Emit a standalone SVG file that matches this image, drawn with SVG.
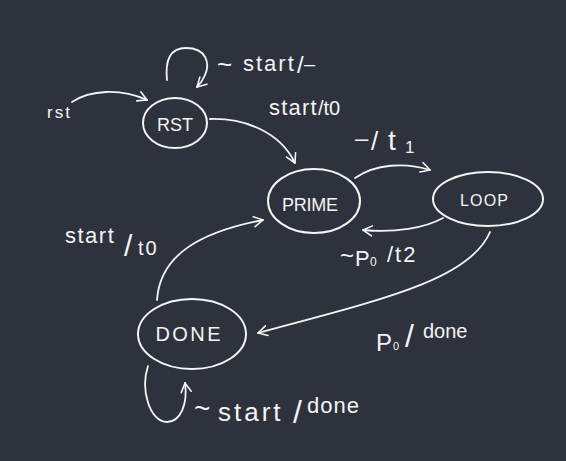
<svg xmlns="http://www.w3.org/2000/svg" width="566" height="461" viewBox="0 0 566 461">
<defs>
<style>
.bg{fill:#2e323d}
.node{fill:none;stroke:#f4f4f4;stroke-width:2;stroke-linecap:round}
.edge{fill:none;stroke:#f4f4f4;stroke-width:1.8;stroke-linecap:round;stroke-linejoin:round}
.t{fill:#f4f4f4;font-family:"Liberation Sans","DejaVu Sans",sans-serif}
.nt{font-size:18px;text-anchor:middle}
.lb{font-size:20px}
</style>
<marker id="ah" viewBox="0 0 12 12" refX="10" refY="6" markerWidth="12" markerHeight="12" markerUnits="userSpaceOnUse" orient="auto">
<path d="M1,1 L10,6 L1,11" fill="none" stroke="#f4f4f4" stroke-width="1.6" stroke-linecap="round" stroke-linejoin="round"/>
</marker>
</defs>
<rect class="bg" width="566" height="461"/>
<g id="connectors">
<path class="edge" d="M72,102 C90,90 120,88 147,100" marker-end="url(#ah)"/>
<path class="edge" d="M167,80 C165,60 170,48 186,48 C207,48 210,64 205,75 C203,80 200,84 197,87" marker-end="url(#ah)"/>
<path class="edge" d="M210,119 C245,118 280,132 295,163" marker-end="url(#ah)"/>
<path class="edge" d="M355,178 C375,164 405,162 430,170" marker-end="url(#ah)"/>
<path class="edge" d="M443,218 C425,228 395,233 363,230" marker-end="url(#ah)"/>
<path class="edge" d="M490,232 C470,280 380,300 258,333" marker-end="url(#ah)"/>
<path class="edge" d="M157,300 C160,255 200,232 263,220" marker-end="url(#ah)"/>
<path class="edge" d="M148,366 C140,390 150,422 167,422 C180,422 188,405 185,383" marker-end="url(#ah)"/>
</g>
<g id="RST">
<ellipse class="node" cx="175" cy="123" rx="32" ry="25"/>
<text class="t nt" x="175" y="131" textLength="36">RST</text>
</g>
<g id="PRIME">
<ellipse class="node" cx="314" cy="201" rx="46" ry="32"/>
<text class="t nt" x="310" y="211" textLength="56">PRIME</text>
</g>
<g id="LOOP">
<ellipse class="node" cx="488" cy="199" rx="55" ry="27"/>
<text class="t nt" x="484" y="206" style="font-size:16px" textLength="48">LOOP</text>
</g>
<g id="DONE">
<ellipse class="node" cx="192" cy="334" rx="54" ry="35"/>
<text class="t nt" x="188" y="341" style="font-size:20px" textLength="65">DONE</text>
</g>
<g id="labels">
<text class="t lb" x="47" y="118" style="font-size:17px;letter-spacing:2px">rst</text>
<text class="t lb"><tspan x="217" y="73" font-size="26">~</tspan><tspan x="243" y="71" font-size="22" letter-spacing="2">start</tspan><tspan x="297" y="73" font-size="24">/</tspan><tspan x="304" y="71">–</tspan></text>
<text class="t lb"><tspan x="269" y="115" font-size="22" letter-spacing="1.2">start</tspan><tspan x="318" y="115" font-size="20">/t0</tspan></text>
<text class="t lb"><tspan x="355" y="146" font-size="24">–</tspan><tspan x="371" y="150" font-size="26">/</tspan><tspan x="388" y="150" font-size="28">t</tspan><tspan x="405" y="153" font-size="17">1</tspan></text>
<text class="t lb"><tspan x="340" y="264" font-size="24">~</tspan><tspan x="355" y="266" font-size="22">P</tspan><tspan x="370" y="266" font-size="12">0</tspan><tspan x="387" y="262" font-size="22" letter-spacing="2">/t2</tspan></text>
<text class="t lb"><tspan x="376" y="351" font-size="24">P</tspan><tspan x="393" y="350" font-size="11">0</tspan><tspan x="405" y="347" font-size="32">/</tspan><tspan x="423" y="338">done</tspan></text>
<text class="t lb"><tspan x="65" y="243" font-size="22" letter-spacing="1.5">start</tspan><tspan x="124" y="256" font-size="30">/</tspan><tspan x="138" y="255" font-size="20" letter-spacing="2">t0</tspan></text>
<text class="t lb"><tspan x="194" y="418" font-size="28">~</tspan><tspan x="218" y="421" font-size="26" letter-spacing="3">start</tspan><tspan x="293" y="423" font-size="32">/</tspan><tspan x="307" y="413" font-size="22" letter-spacing="1">done</tspan></text>
</g>
</svg>
